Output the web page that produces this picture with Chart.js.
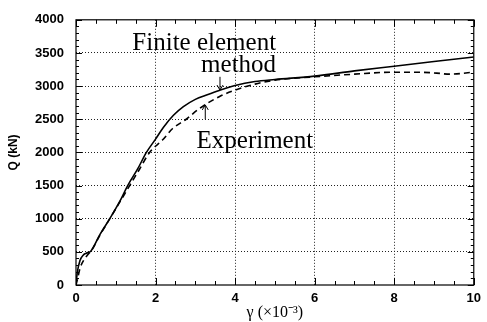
<!DOCTYPE html>
<html>
<head>
<meta charset="utf-8">
<script src="https://cdn.jsdelivr.net/npm/chart.js@4/dist/chart.umd.min.js"></script>
<style>
  html, body { margin:0; padding:0; background:#fff; }
  #wrap { width:487px; height:322px; }
</style>
</head>
<body>
<div id="wrap"><canvas id="chart" width="487" height="322"></canvas></div>
<script>
// Finite element method (solid)
const femGamma = [0, 0.03, 0.1, 0.18, 0.26, 0.37, 0.6, 0.85, 1.1, 1.3, 1.55, 1.77, 2.0, 2.2, 2.45, 2.7, 3.0, 3.3, 3.6, 4.0, 4.5, 5.0, 6.0, 7.0, 8.0, 9.0, 10.0];
const femQ     = [0, 180, 370, 450, 480, 510, 760, 1000, 1260, 1500, 1750, 2000, 2200, 2380, 2560, 2690, 2800, 2870, 2935, 3010, 3070, 3100, 3150, 3230, 3300, 3370, 3440];

// Experiment (dashed)
const expGamma = [0, 0.05, 0.1, 0.2, 0.3, 0.4, 0.6, 0.85, 1.1, 1.35, 1.6, 1.85, 2.18, 2.43, 2.77, 3.1, 3.6, 4.0, 4.5, 5.0, 6.0, 7.0, 8.0, 8.5, 9.0, 9.4, 10.0];
const expQ     = [0, 120, 250, 380, 460, 530, 750, 1000, 1250, 1500, 1750, 2000, 2190, 2360, 2500, 2660, 2840, 2940, 3030, 3090, 3140, 3180, 3210, 3210, 3200, 3180, 3210];

const xTicks = [0, 2, 4, 6, 8, 10];
const yTicks = [0, 500, 1000, 1500, 2000, 2500, 3000, 3500, 4000];

const toPts = (xs, ys) => xs.map((x, i) => ({ x, y: ys[i] }));

const tickFont = { family:'"Liberation Sans", Arial, sans-serif', size:13, weight:'bold' };
const serif = '"Liberation Serif", "Times New Roman", serif';

// frame, inward ticks, annotations
const decor = {
  id:'decor',
  afterDraw(chart) {
    const { ctx, chartArea:a, scales:{ x, y } } = chart;
    ctx.save();
    ctx.strokeStyle = '#000';
    ctx.lineWidth = 1.2;
    ctx.strokeRect(a.left, a.top, a.right - a.left, a.bottom - a.top);

    ctx.lineWidth = 1;
    ctx.beginPath();
    for (let v = 0; v <= 10.001; v += 0.5) {
      const px = Math.round(x.getPixelForValue(v)) + 0.5;
      const len = (Math.abs(v % 2) < 0.01) ? 7 : 4;
      ctx.moveTo(px, a.bottom); ctx.lineTo(px, a.bottom - len);
      ctx.moveTo(px, a.top);    ctx.lineTo(px, a.top + len);
    }
    for (let v = 0; v <= 4000; v += 100) {
      const py = Math.round(y.getPixelForValue(v)) + 0.5;
      const len = (v % 500 === 0) ? 6 : 3;
      ctx.moveTo(a.left, py);  ctx.lineTo(a.left + len, py);
      ctx.moveTo(a.right, py); ctx.lineTo(a.right - len, py);
    }
    ctx.stroke();

    // labels
    ctx.fillStyle = '#000';
    ctx.font = `25px ${serif}`;
    ctx.textAlign = 'right';
    ctx.textBaseline = 'alphabetic';
    ctx.fillText('Finite element', x.getPixelForValue(5.03), y.getPixelForValue(3552));
    ctx.fillText('method', x.getPixelForValue(5.03), y.getPixelForValue(3209));
    ctx.textAlign = 'left';
    ctx.fillText('Experiment', x.getPixelForValue(3.03), y.getPixelForValue(2060));

    // arrows
    const arrow = (gx, q0, q1) => {
      const px = x.getPixelForValue(gx);
      const y0 = y.getPixelForValue(q0), y1 = y.getPixelForValue(q1);
      const d = y1 > y0 ? 1 : -1;
      ctx.beginPath();
      ctx.lineWidth = 1;
      ctx.moveTo(px, y0); ctx.lineTo(px, y1);
      ctx.moveTo(px - 3, y1 - 5 * d); ctx.lineTo(px, y1); ctx.lineTo(px + 3, y1 - 5 * d);
      ctx.stroke();
    };
    arrow(3.62, 3140, 2940);
    arrow(3.25, 2500, 2716);
    ctx.restore();
  }
};

new Chart(document.getElementById('chart'), {
  type:'scatter',
  data:{
    datasets:[
      { label:'Finite element method', data:toPts(femGamma, femQ), showLine:true,
        borderColor:'#000', borderWidth:1.6, pointRadius:0, cubicInterpolationMode:'monotone', fill:false },
      { label:'Experiment', data:toPts(expGamma, expQ), showLine:true,
        borderColor:'#000', borderWidth:1.6, borderDash:[6,4], pointRadius:0, cubicInterpolationMode:'monotone', fill:false }
    ]
  },
  options:{
    responsive:false,
    animation:false,
    layout:{ padding:{ top:17, right:11, left:6, bottom:0 } },
    plugins:{ legend:{ display:false }, tooltip:{ enabled:false } },
    scales:{
      x:{
        type:'linear', min:0, max:10,
        afterBuildTicks: s => { s.ticks = xTicks.map(v => ({ value:v })); },
        afterFit: s => { s.height = 37; },
        ticks:{ color:'#000', font:tickFont, padding:6, maxRotation:0, callback: v => String(v) },
        grid:{ drawTicks:false, lineWidth:1,
               color: c => (c.tick.value === 0 || c.tick.value === 10) ? 'rgba(0,0,0,0)' : '#222' },
        border:{ display:false, dash:[1,2] },
        title:{ display:true, text:'γ (×10⁻³)', color:'#000',
                font:{ family:serif, size:16 }, padding:{ top:0, bottom:0 } }
      },
      y:{
        type:'linear', min:0, max:4000,
        afterBuildTicks: s => { s.ticks = yTicks.map(v => ({ value:v })); },
        afterFit: s => { s.width = 70; },
        ticks:{ color:'#000', font:tickFont, padding:12, callback: v => String(v) },
        grid:{ drawTicks:false, lineWidth:1,
               color: c => (c.tick.value === 0 || c.tick.value === 4000) ? 'rgba(0,0,0,0)' : '#222' },
        border:{ display:false, dash:[1,2] },
        title:{ display:true, text:'Q (kN)', color:'#000',
                font:{ family:'"Liberation Sans", Arial, sans-serif', size:12, weight:'bold' }, padding:{ top:0, bottom:0 } }
      }
    }
  },
  plugins:[decor]
});
</script>
</body>
</html>
